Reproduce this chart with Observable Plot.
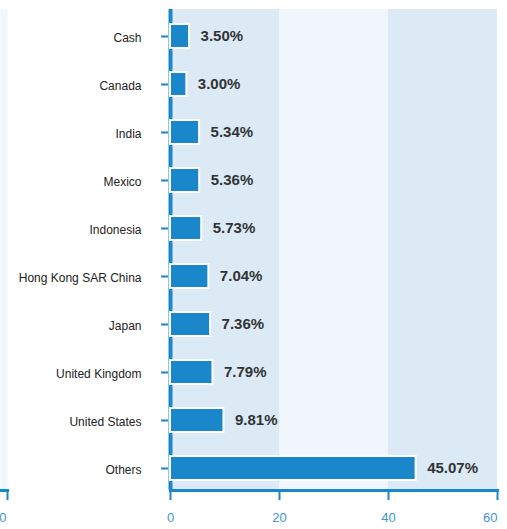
<!DOCTYPE html>
<html><head>
<meta charset="utf-8">
<script src="https://cdn.jsdelivr.net/npm/d3@7"></script>
<script src="https://cdn.jsdelivr.net/npm/@observablehq/plot@0.6"></script>
<style>
body{margin:0;background:#fff;}
#wrap{position:relative;width:507px;height:529px;overflow:hidden;}
#wrap svg{position:absolute;top:0;}
</style>
</head><body><div id="wrap"></div>
<script>
const categories = ["Cash","Canada","India","Mexico","Indonesia","Hong Kong SAR China","Japan","United Kingdom","United States","Others"];
const values = [3.50,3.00,5.34,5.36,5.73,7.04,7.36,7.79,9.81,45.07];
const xTicks = [0,20,40,60];
const bandStarts = [0,20,40];
const bandEnds = [20,40,60];
const bandFills = ["#dbeaf5","#f0f6fb","#dbeaf5"];

const data = categories.map((c,i)=>({cat:c, value:values[i]}));
const bands = bandStarts.map((s,i)=>({x1:s, x2:bandEnds[i], fill:bandFills[i]}));
const blue = "#1a87cb";
const tickBlue = "#3d95d4";
const font = "'Liberation Sans', Arial, sans-serif";
const lastTick = xTicks[xTicks.length-1];

const main = Plot.plot({
  width: 507, height: 529,
  marginLeft: 170, marginRight: 10, marginTop: 9, marginBottom: 39,
  style: {fontFamily: font, background: "transparent"},
  x: {domain: [0,60]},
  y: {domain: categories, paddingInner: 0.5, paddingOuter: 0.25, range: [10.5, 494]},
  marks: [
    Plot.rect(bands, {x1:"x1", x2:"x2", fill:"fill"}),
    Plot.ruleX([0], {stroke: blue, strokeWidth: 4}),
    Plot.frame({anchor:"bottom", stroke: blue, strokeWidth: 3}),
    Plot.axisX({ticks: xTicks, tickSize: 10, stroke: blue, strokeWidth: 2, text: null, label: null}),
    Plot.axisX({ticks: xTicks.slice(0,-1), tickSize: 0, tickPadding: 22, fill: tickBlue, fontSize: 13, label: null}),
    Plot.axisX({ticks: [lastTick], tickSize: 0, tickPadding: 22, fill: tickBlue, fontSize: 13, label: null, textAnchor: "end"}),
    Plot.axisY({tickSize: 7, dx: -2, stroke: blue, strokeWidth: 2, text: null, label: null}),
    Plot.axisY({tickSize: 0, dx: -2, dy: 2, tickPadding: 27, fill: "#222", fontSize: 12, label: null}),
    Plot.barX(data, {x:"value", y:"cat", fill: blue, stroke:"white", strokeWidth: 2}),
    Plot.text(data, {x:"value", y:"cat", text: d => d.value.toFixed(2)+"%", textAnchor:"start", dx: 11, fontWeight:"bold", fontSize: 15, fill:"#333"})
  ]
});

const left = Plot.plot({
  width: 8, height: 529,
  marginLeft: 0, marginRight: 1, marginTop: 9, marginBottom: 39,
  style: {fontFamily: font, background: "transparent", overflow: "visible"},
  x: {domain: [-1,0]},
  y: {domain: categories, axis: null},
  marks: [
    Plot.frame({fill: "#f0f6fb"}),
    Plot.frame({anchor:"bottom", stroke: blue, strokeWidth: 3}),
    Plot.axisX({ticks: [0], tickSize: 10, stroke: blue, strokeWidth: 2, text: null, label: null}),
    Plot.axisX({ticks: [0], tickSize: 0, tickPadding: 22, fill: tickBlue, fontSize: 13, label: null, textAnchor: "end", dx: -1})
  ]
});

const wrap = document.getElementById("wrap");
left.style.left = "0px";
main.style.left = "0px";
wrap.appendChild(main);
wrap.appendChild(left);
</script>
</body></html>
